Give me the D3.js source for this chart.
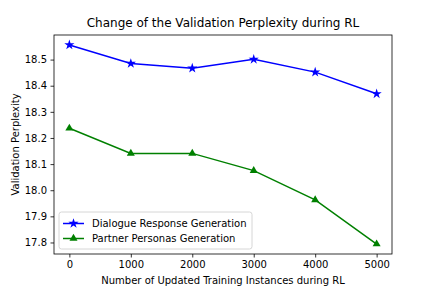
<!DOCTYPE html>
<html>
<head>
<meta charset="utf-8">
<script src="https://cdn.jsdelivr.net/npm/d3@7"></script>
<style>
body { margin: 0; background: #fff; }
text { font-family: "DejaVu Sans", sans-serif; fill: #000; }
</style>
</head>
<body>
<script>
// data
const steps = [0, 1000, 2000, 3000, 4000, 5000];
const dialogue = [18.556, 18.485, 18.467, 18.501, 18.452, 18.369];
const partner = [18.237, 18.141, 18.141, 18.075, 17.963, 17.794];
const xTicks = [0, 1000, 2000, 3000, 4000, 5000];
const yTicks = [17.8, 17.9, 18.0, 18.1, 18.2, 18.3, 18.4, 18.5];

const width = 436, height = 291;
const margin = {left: 54, right: 44, top: 35, bottom: 37};

const svg = d3.select("body").append("svg")
	.attr("width", width)
	.attr("height", height);

// matplotlib style 5% padding
const pad = (lo, hi) => [lo - (hi - lo) * 0.05, hi + (hi - lo) * 0.05];
const allY = dialogue.concat(partner);

const x = d3.scaleLinear()
	.domain(pad(d3.min(steps), d3.max(steps)))
	.range([margin.left, width - margin.right]);
const y = d3.scaleLinear()
	.domain(pad(d3.min(allY), d3.max(allY)))
	.range([height - margin.bottom, margin.top]);

const xAxis = svg.append("g")
	.attr("transform", `translate(0,${height - margin.bottom})`)
	.call(d3.axisBottom(x).tickValues(xTicks).tickSize(3.5).tickPadding(3.5).tickFormat(d3.format("d")));
const yAxis = svg.append("g")
	.attr("transform", `translate(${margin.left},0)`)
	.call(d3.axisLeft(y).tickValues(yTicks).tickSize(3.5).tickPadding(3.5).tickFormat(d3.format(".1f")));

[xAxis, yAxis].forEach(ax => {
	ax.select(".domain").remove();
	ax.selectAll("text").style("font-size", "10px").style("font-family", "DejaVu Sans");
	ax.selectAll("line").attr("stroke", "#000").attr("stroke-width", 0.8);
});

// frame
svg.append("rect")
	.attr("x", margin.left).attr("y", margin.top)
	.attr("width", width - margin.left - margin.right)
	.attr("height", height - margin.top - margin.bottom)
	.attr("fill", "none").attr("stroke", "#000").attr("stroke-width", 0.8);

const line = d3.line().x((d, i) => x(steps[i])).y(d => y(d));

const star = d3.symbol().type(d3.symbolStar).size(32);
const tri = d3.symbol().type(d3.symbolTriangle).size(28);

const series = [
	{name: "Dialogue Response Generation", values: dialogue, color: "#0000ff", sym: star},
	{name: "Partner Personas Generation", values: partner, color: "#008000", sym: tri}
];

series.forEach(s => {
	svg.append("path")
		.attr("d", line(s.values))
		.attr("fill", "none")
		.attr("stroke", s.color)
		.attr("stroke-width", 1.5);
	svg.append("g").selectAll("path")
		.data(s.values)
		.join("path")
		.attr("d", s.sym)
		.attr("transform", (d, i) => `translate(${x(steps[i])},${y(d)})`)
		.attr("fill", s.color);
});

// title and labels
svg.append("text")
	.attr("x", (margin.left + width - margin.right) / 2)
	.attr("y", margin.top - 8)
	.attr("text-anchor", "middle")
	.style("font-size", "12px")
	.text("Change of the Validation Perplexity during RL");

svg.append("text")
	.attr("x", (margin.left + width - margin.right) / 2)
	.attr("y", height - 7)
	.attr("text-anchor", "middle")
	.style("font-size", "10px")
	.text("Number of Updated Training Instances during RL");

svg.append("text")
	.attr("transform", `translate(19,${(margin.top + height - margin.bottom) / 2}) rotate(-90)`)
	.attr("text-anchor", "middle")
	.style("font-size", "10px")
	.text("Validation Perplexity");

// legend
const lg = svg.append("g").attr("transform", `translate(${margin.left + 5},${height - margin.bottom - 42})`);
lg.append("rect")
	.attr("width", 193).attr("height", 37)
	.attr("rx", 2.5)
	.attr("fill", "#fff").attr("fill-opacity", 0.8)
	.attr("stroke", "#ccc").attr("stroke-width", 0.8);
series.forEach((s, i) => {
	const row = lg.append("g").attr("transform", `translate(0,${11.5 + i * 15})`);
	row.append("line")
		.attr("x1", 4).attr("x2", 25)
		.attr("stroke", s.color).attr("stroke-width", 1.5);
	row.append("path")
		.attr("d", s.sym)
		.attr("transform", "translate(14.5,0)")
		.attr("fill", s.color);
	row.append("text")
		.attr("x", 33).attr("dy", "0.35em")
		.style("font-size", "10px")
		.text(s.name);
});
</script>
</body>
</html>
